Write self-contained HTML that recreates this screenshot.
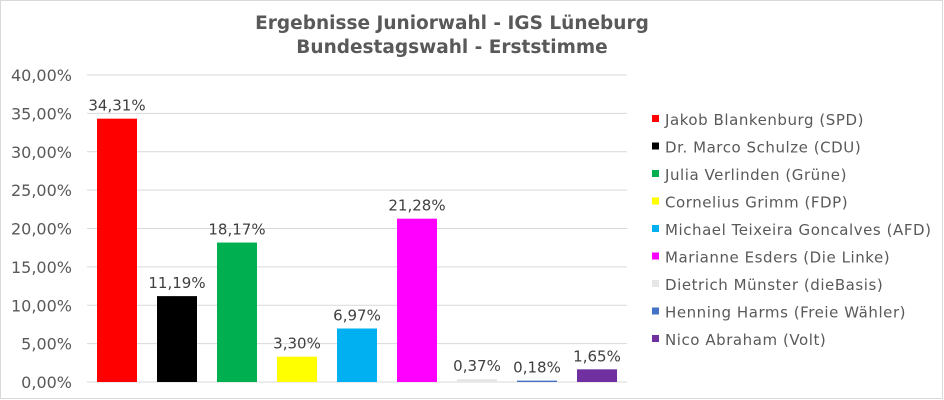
<!DOCTYPE html>
<html><head><meta charset="utf-8"><style>
body{margin:0;background:#fff;}
svg{display:block;font-family:"DejaVu Sans","Liberation Sans",sans-serif;}
</style></head><body>
<svg id="chart" width="944" height="400">
<rect x="0.5" y="0.5" width="942" height="398" fill="#fff" stroke="#d9d9d9"/>
<text x="452" y="29" text-anchor="middle" font-size="18.5" font-weight="bold" fill="#595959">Ergebnisse Juniorwahl - IGS Lüneburg</text>
<text x="452" y="53" text-anchor="middle" font-size="18.5" font-weight="bold" fill="#595959">Bundestagswahl - Erststimme</text>
<g id="grid"></g><g id="bars"></g><g id="legend"></g>
</svg>
<script>
const categories=["Jakob Blankenburg (SPD)","Dr. Marco Schulze (CDU)","Julia Verlinden (Grüne)","Cornelius Grimm (FDP)","Michael Teixeira Goncalves (AFD)","Marianne Esders (Die Linke)","Dietrich Münster (dieBasis)","Henning Harms (Freie Wähler)","Nico Abraham (Volt)"];
const values=[34.31,11.19,18.17,3.30,6.97,21.28,0.37,0.18,1.65];
const colors=["#ff0000","#000000","#00b050","#ffff00","#00b0f0","#ff00ff","#e7e6e6","#4472c4","#7030a0"];
const ticks=[0,5,10,15,20,25,30,35,40];
const NS="http://www.w3.org/2000/svg";
const x0=87,x1=627,y0=382,y1=75,yMax=40;
const y=v=>y0-(v/yMax)*(y0-y1);
const slot=(x1-x0)/categories.length;
function mk(t,a,p){const e=document.createElementNS(NS,t);for(const k in a)e.setAttribute(k,a[k]);p.appendChild(e);return e;}
const fmt=v=>v.toFixed(2).replace('.',',')+'%';
const grid=document.getElementById('grid');
ticks.forEach(t=>{
 const l=mk('line',{x1:x0,x2:x1,y1:y(t),y2:y(t),stroke:'#d9d9d9','stroke-width':1},grid);
 
 
 const tx=mk('text',{x:72,y:y(t)+6,'text-anchor':'end','font-size':16,fill:'#595959'},grid);
 tx.textContent=fmt(t);
 
 
});
const bars=document.getElementById('bars');
values.forEach((v,i)=>{
 const bx=x0+i*slot+10;
 const r=mk('rect',{x:bx,y:y(v),width:40,height:y0-y(v),fill:colors[i]},bars);
 
 
 const t=mk('text',{x:bx+20,y:y(v)-8,'text-anchor':'middle','font-size':15,fill:'#404040'},bars);
 t.textContent=fmt(v);
 
 
});
const lg=document.getElementById('legend');
categories.forEach((c,i)=>{
 const cy=119+i*27.5;
 const s=mk('rect',{x:652,y:cy-4,width:7,height:7,fill:colors[i]},lg);
 
 
 const t=mk('text',{x:665,y:cy+6,'font-size':15,'letter-spacing':0.55,fill:'#595959'},lg);
 t.textContent=c;
 
 
});
</script>
</body></html>
